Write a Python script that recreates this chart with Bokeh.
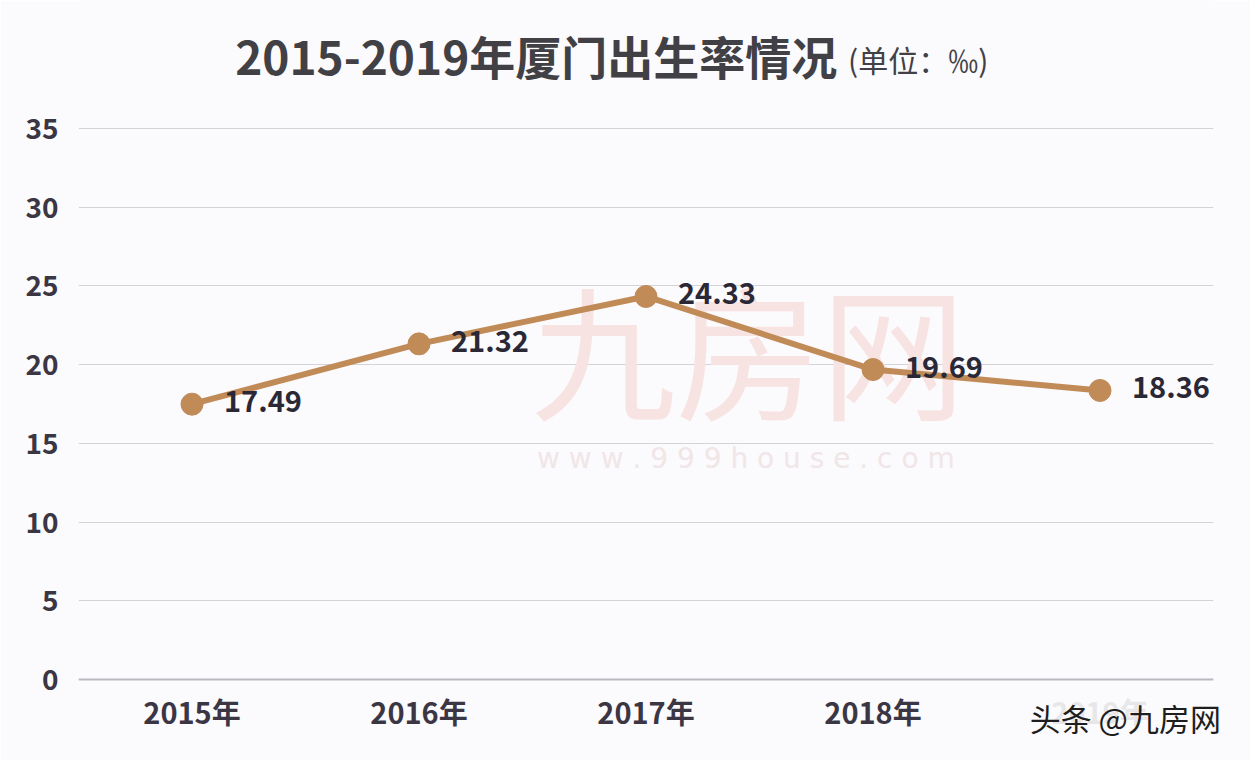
from bokeh.plotting import figure
from bokeh.models import FactorRange, Range1d, FixedTicker, Span, ColumnDataSource
from bokeh.core.properties import value
from bokeh.embed import file_html
from bokeh.resources import INLINE

years = ["2015年", "2016年", "2017年", "2018年", "2019年"]
rates = [17.49, 21.32, 24.33, 19.69, 18.36]
labels = ["17.49", "21.32", "24.33", "19.69", "18.36"]
y_ticks = [0, 5, 10, 15, 20, 25, 30, 35]
title_main = "2015-2019年厦门出生率情况"
title_unit = "(单位：‰)"
credit = "头条 @九房网"

BG = "#fbfafc"
FONT = "Noto Sans CJK SC"
LINE = "#c18b58"

# frame spans the full canvas height; y axis values 0..35 keep the reference scale
p = figure(width=1250, height=760, x_range=FactorRange(*years, range_padding=0),
           y_range=Range1d(-5.145, 43.131), output_backend="svg", toolbar_location=None,
           min_border_left=78, min_border_right=37, min_border_top=0, min_border_bottom=0,
           background_fill_color=BG, border_fill_color=BG)
p.outline_line_color = None

# watermark
p.text(x=[2.95], y=[21.1], text=["九房网"], text_font=value(FONT), text_font_size="145px",
       text_color="#f8e3e3", text_align="center", text_baseline="middle")
p.text(x=[2.94], y=[14.05], text=["w w w . 9 9 9 h o u s e . c o m"], text_font=value("DejaVu Sans"),
       text_font_size="28px", text_color="#f1e6e7", text_align="center", text_baseline="middle")

p.yaxis.ticker = FixedTicker(ticks=y_ticks)
p.ygrid.grid_line_color = "#d3d3d8"
p.ygrid.grid_line_width = 1
p.xgrid.grid_line_color = None
for ax in (p.xaxis, p.yaxis):
    ax.axis_line_color = None
    ax.major_tick_line_color = None
    ax.minor_tick_line_color = None
    ax.major_label_text_font = FONT
    ax.major_label_text_font_style = "bold"
    ax.major_label_text_color = "#3b3644"
p.yaxis.major_label_text_font_size = "28px"
p.yaxis.major_label_standoff = 14
p.xaxis.fixed_location = 0
p.xaxis.major_label_text_font_size = "29px"
p.xaxis.major_label_standoff = 4

p.add_layout(Span(location=0, dimension="width", line_color="#b9b8be", line_width=2))

src = ColumnDataSource(dict(x=years, y=rates, lab=labels))
p.line("x", "y", source=src, line_color=LINE, line_width=6)
p.scatter("x", "y", source=src, size=22, fill_color=LINE, line_color=LINE)
p.text("x", "y", text="lab", source=src, x_offset=32, y_offset=-3, text_font=value(FONT),
       text_font_style="bold", text_font_size="29px", text_color="#2a2836",
       text_align="left", text_baseline="middle")

# title
p.text(x=[0.69], y=[39.64], text=[title_main], text_font=value(FONT), text_font_style="bold",
       text_font_size="46px", text_color="#414045", text_align="left", text_baseline="middle")
p.text(x=[3.39], y=[39.4], text=[title_unit], text_font=value(FONT),
       text_font_size="30px", text_color="#414045", text_align="left", text_baseline="middle")

# credit (overlays the last category label as in the reference)
cr = p.text(x=[4.19], y=[-2.4], text=[credit], text_font=value(FONT),
            text_font_size="31px", text_color="#1e1e1e", text_align="left", text_baseline="middle",
            background_fill_color=BG, background_fill_alpha=0.9)
cr.level = "overlay"

open("out.html", "w").write(file_html(p, INLINE))
